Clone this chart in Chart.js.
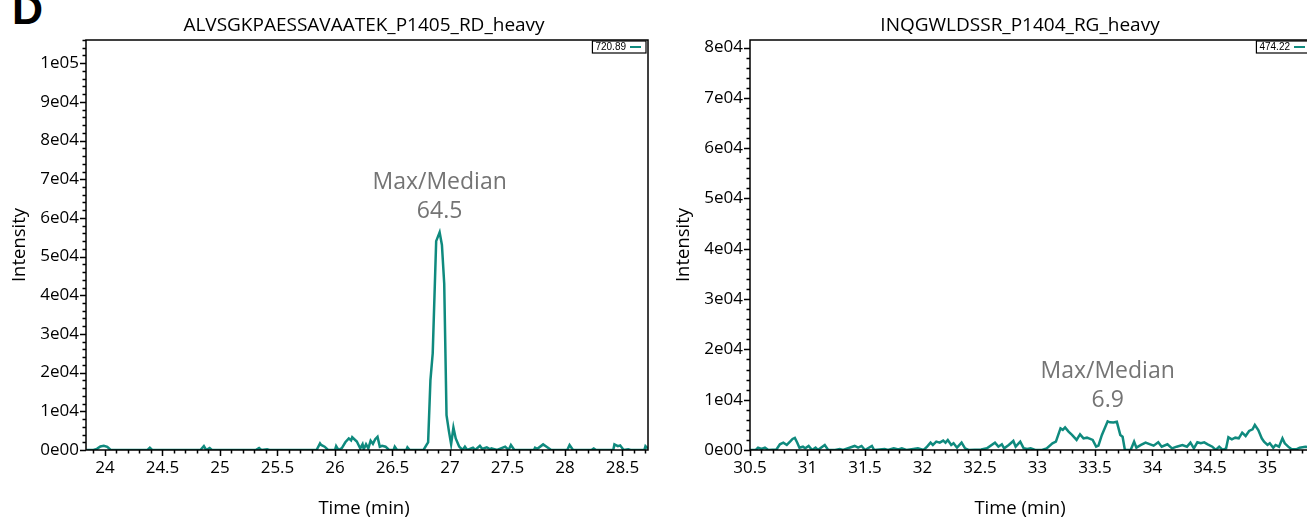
<!DOCTYPE html>
<html>
<head>
<meta charset="utf-8">
<script src="https://cdn.jsdelivr.net/npm/chart.js@4.4.1/dist/chart.umd.min.js"></script>
<style>
  html, body { margin: 0; padding: 0; background: #fff; overflow: hidden; }
  body { width: 1307px; height: 517px; position: relative; }
  canvas { position: absolute; top: 0; }
  #left { left: 0; }
  #right { left: 664px; }
  #panel { position: absolute; left: 12px; top: -15px; line-height: 1; font: bold 43px "Liberation Sans", Arial, sans-serif; color: #000; }
</style>
</head>
<body>
<div id="panel">D</div>
<canvas id="left" width="660" height="517"></canvas>
<canvas id="right" width="660" height="517"></canvas>
<script>
// left panel: ALVSGKPAESSAVAATEK_P1405_RD_heavy
const leftTime = [23.84, 23.90, 23.93, 23.96, 23.99, 24.02, 24.05, 24.37, 24.39, 24.41,
  24.83, 24.86, 24.88, 24.91, 24.93, 25.31, 25.34, 25.36, 25.41, 25.43,
  25.84, 25.87, 25.88, 25.91, 25.94, 26.00, 26.01, 26.03, 26.06, 26.09,
  26.12, 26.14, 26.15, 26.19, 26.22, 26.24, 26.25, 26.27, 26.29, 26.31,
  26.33, 26.35, 26.37, 26.39, 26.41, 26.44, 26.47, 26.51, 26.52, 26.54,
  26.62, 26.63, 26.65, 26.77, 26.80, 26.81, 26.83, 26.85, 26.88, 26.91,
  26.93, 26.95, 26.97, 26.99, 27.01, 27.03, 27.05, 27.08, 27.11, 27.13,
  27.15, 27.20, 27.22, 27.26, 27.28, 27.32, 27.35, 27.36, 27.41, 27.48,
  27.51, 27.53, 27.56, 27.73, 27.74, 27.76, 27.81, 27.84, 27.88, 28.02,
  28.04, 28.07, 28.23, 28.25, 28.27, 28.42, 28.43, 28.46, 28.48, 28.51,
  28.55, 28.57, 28.69, 28.70, 28.72];
const leftIntensity = [0, 0, 300, 900, 1100, 800, 0, 0, 600, 0,
  0, 1000, 0, 500, 0, 0, 500, 0, 200, 0,
  0, 1700, 1300, 850, 0, 0, 1000, 0, 500, 2000,
  3000, 2500, 3300, 2200, 400, 1500, 200, 1500, 400, 2400,
  1600, 2800, 3400, 850, 1100, 850, 0, 0, 850, 0,
  0, 700, 0, 0, 1500, 2000, 18000, 25000, 54000, 56300,
  53000, 43000, 9000, 5000, 1500, 5800, 3000, 900, 0, 850,
  0, 600, 0, 1100, 300, 700, 200, 400, 0, 850,
  0, 1300, 0, 0, 600, 300, 1450, 850, 0, 0,
  1300, 0, 0, 400, 0, 0, 1450, 1000, 1200, 0,
  200, 0, 0, 1000, 400];

// right panel: INQGWLDSSR_P1404_RG_heavy
const rightTime = [30.50, 30.55, 30.57, 30.60, 30.63, 30.66, 30.73, 30.76, 30.79, 30.82,
  30.85, 30.87, 30.89, 30.91, 30.93, 30.96, 30.98, 31.01, 31.04, 31.07,
  31.09, 31.15, 31.18, 31.24, 31.28, 31.31, 31.41, 31.44, 31.47, 31.50,
  31.56, 31.58, 31.67, 31.70, 31.75, 31.79, 31.82, 31.86, 31.92, 31.96,
  32.01, 32.04, 32.07, 32.09, 32.12, 32.15, 32.18, 32.20, 32.22, 32.25,
  32.27, 32.30, 32.34, 32.37, 32.40, 32.51, 32.56, 32.63, 32.66, 32.69,
  32.71, 32.75, 32.79, 32.81, 32.85, 32.88, 32.91, 32.94, 32.98, 33.04,
  33.08, 33.13, 33.16, 33.20, 33.22, 33.24, 33.27, 33.30, 33.34, 33.37,
  33.40, 33.43, 33.48, 33.51, 33.53, 33.56, 33.61, 33.63, 33.66, 33.69,
  33.72, 33.74, 33.76, 33.81, 33.84, 33.86, 33.90, 33.94, 33.98, 34.01,
  34.05, 34.08, 34.13, 34.17, 34.21, 34.26, 34.30, 34.33, 34.36, 34.39,
  34.42, 34.45, 34.48, 34.52, 34.55, 34.58, 34.61, 34.64, 34.66, 34.69,
  34.72, 34.75, 34.78, 34.81, 34.84, 34.87, 34.89, 34.92, 34.95, 34.97,
  35.00, 35.02, 35.05, 35.07, 35.10, 35.13, 35.15, 35.18, 35.21, 35.25,
  35.28, 35.33, 35.39];
const rightIntensity = [0, 0, 460, 200, 460, 0, 100, 1130, 1460, 1000,
  1700, 2200, 2400, 1500, 460, 660, 330, 800, 0, 460,
  0, 1000, 0, 0, 200, 0, 800, 460, 800, 0,
  800, 0, 200, 0, 330, 100, 330, 0, 200, 330,
  0, 660, 1460, 1000, 1660, 1460, 1860, 1460, 2000, 1000,
  1330, 460, 1460, 330, 0, 100, 330, 1460, 660, 1130,
  330, 1000, 1800, 660, 1660, 330, 200, 330, 0, 0,
  330, 1330, 1660, 4300, 4000, 4500, 3650, 3000, 2000, 3100,
  2300, 2450, 2000, 660, 860, 3000, 5700, 5500, 5450, 5600,
  3000, 2650, 0, 0, 1660, 460, 1000, 1460, 1130, 860,
  1530, 660, 1130, 330, 660, 1000, 660, 1460, 330, 1530,
  1330, 1530, 1130, 660, 0, 660, 0, 330, 2520, 2120,
  2450, 2320, 3450, 2790, 3780, 4110, 4980, 3980, 2320, 1660,
  1000, 1330, 460, 1000, 660, 2320, 1330, 660, 130, 130,
  460, 660, 500];

const panelTitles = ['ALVSGKPAESSAVAATEK_P1405_RD_heavy', 'INQGWLDSSR_P1404_RG_heavy'];
const legendLabels = ['720.89', '474.22'];
const maxMedian = ['64.5', '6.9'];

const lineColor = '#0f8a7e';
const font = 'Open Sans';

function sciLabel(v) {
  const parts = Number(v).toExponential(0).split('e');
  return parts[0] + 'e' + parts[1].replace('+', '').padStart(2, '0');
}

const frameTicks = {
  id: 'frameTicks',
  afterDraw(chart, args, opts) {
    const { ctx, chartArea: a, scales: { x, y } } = chart;
    ctx.save();
    ctx.strokeStyle = '#000';
    ctx.lineWidth = 1.5;
    ctx.strokeRect(a.left, a.top, a.right - a.left, a.bottom - a.top);

    // minor / major tick marks
    ctx.beginPath();
    for (let k = Math.ceil(x.min * 10 - 1e-6); k <= Math.floor(x.max * 10 + 1e-6); k++) {
      const px = Math.round(x.getPixelForValue(k / 10)) + 0.5;
      ctx.moveTo(px, a.bottom);
      ctx.lineTo(px, a.bottom + (k % 5 === 0 ? 6 : 3.5));
    }
    for (let k = 0; k * 2000 <= y.max; k++) {
      const py = Math.round(y.getPixelForValue(k * 2000)) + 0.5;
      ctx.moveTo(a.left, py);
      ctx.lineTo(a.left - (k % 5 === 0 ? 6 : 3.5), py);
    }
    ctx.stroke();

    // panel title and x axis title
    ctx.fillStyle = '#000';
    ctx.textAlign = 'center';
    ctx.textBaseline = 'alphabetic';
    ctx.font = '19px "' + font + '"';
    ctx.fillText(opts.title, opts.titleX, 31);
    ctx.font = '18.5px "' + font + '"';
    ctx.fillText('Time (min)', opts.titleX, 514);

    // legend box
    ctx.font = '10px "Liberation Sans", Arial';
    const tw = ctx.measureText(opts.legend).width;
    const bw = tw + 23, bh = 12;
    const bx = a.right - 2 - bw, by = a.top + 1;
    ctx.fillStyle = '#fff';
    ctx.fillRect(bx, by, bw, bh);
    ctx.lineWidth = 1.2;
    ctx.strokeRect(bx, by, bw, bh);
    ctx.fillStyle = '#000';
    ctx.textAlign = 'left';
    ctx.textBaseline = 'middle';
    ctx.fillText(opts.legend, bx + 3, by + bh / 2 + 0.5);
    ctx.strokeStyle = lineColor;
    ctx.lineWidth = 2;
    ctx.beginPath();
    ctx.moveTo(bx + tw + 7, by + bh / 2);
    ctx.lineTo(bx + tw + 18, by + bh / 2);
    ctx.stroke();

    // Max/Median annotation above the apex
    const data = chart.data.datasets[0].data;
    let top = data[0];
    data.forEach(p => { if (p.y > top.y) top = p; });
    const px = x.getPixelForValue(top.x), py = y.getPixelForValue(top.y);
    ctx.fillStyle = '#747474';
    ctx.textAlign = 'center';
    ctx.textBaseline = 'middle';
    ctx.font = '23px "' + font + '"';
    ctx.fillText('Max/Median', px, py - 50);
    ctx.fillText(opts.ratio, px, py - 21);
    ctx.restore();
  }
};

// labelled ticks only at whole multiples of the step
function majorTicks(step) {
  return scale => {
    const ticks = [];
    for (let k = Math.ceil(scale.min / step - 1e-6); k * step <= scale.max + 1e-9; k++) {
      ticks.push({ value: +(k * step).toFixed(6) });
    }
    scale.ticks = ticks;
  };
}

function makeChart(id, times, values, xMin, xMax, yMax, i, titleX) {
  const points = times.map((t, k) => ({ x: t, y: values[k] }));
  return new Chart(document.getElementById(id), {
    type: 'line',
    data: {
      datasets: [{
        label: legendLabels[i],
        data: points,
        borderColor: lineColor,
        borderWidth: 2.5,
        pointRadius: 0,
        tension: 0,
        fill: false
      }]
    },
    options: {
      responsive: false,
      animation: false,
      devicePixelRatio: 1,
      layout: { padding: { top: 40, right: 12, left: 0, bottom: 0 } },
      plugins: {
        legend: { display: false },
        tooltip: { enabled: false },
        frameTicks: { title: panelTitles[i], titleX: titleX, legend: legendLabels[i], ratio: maxMedian[i] }
      },
      scales: {
        x: {
          type: 'linear', min: xMin, max: xMax,
          grid: { display: false, drawTicks: false },
          border: { display: false },
          ticks: {
            autoSkip: false, maxRotation: 0,
            padding: 8, color: '#000', font: { family: font, size: 17 },
            callback: v => String(+Number(v).toFixed(1))
          },
          afterBuildTicks: majorTicks(0.5),
          afterFit: s => { s.height = 67; }
        },
        y: {
          type: 'linear', min: 0, max: yMax,
          grid: { display: false, drawTicks: false },
          border: { display: false },
          ticks: {
            autoSkip: false, padding: 7,
            color: '#000', font: { family: font, size: 17 },
            callback: v => sciLabel(v)
          },
          afterBuildTicks: majorTicks(10000),
          title: {
            display: true, text: 'Intensity', color: '#000',
            font: { family: font, size: 18.5 }, padding: { top: 9, bottom: 0 }
          },
          afterFit: s => { s.width = 86; }
        }
      }
    },
    plugins: [frameTicks]
  });
}

makeChart('left', leftTime, leftIntensity, 23.835, 28.722, 106000, 0, 364);
makeChart('right', rightTime, rightIntensity, 30.5, 35.387, 81500, 1, 356);
</script>
</body>
</html>
